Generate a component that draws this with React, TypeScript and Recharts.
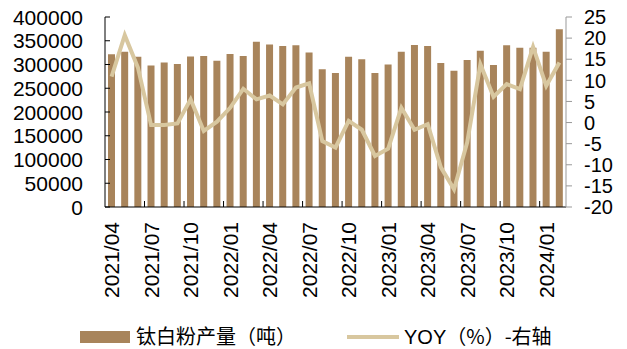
import React from 'react';
import { ComposedChart, Bar, Line, XAxis, YAxis } from 'recharts';

const months = [
  '2021/04', '2021/05', '2021/06', '2021/07', '2021/08', '2021/09', '2021/10', '2021/11', '2021/12',
  '2022/01', '2022/02', '2022/03', '2022/04', '2022/05', '2022/06', '2022/07', '2022/08', '2022/09',
  '2022/10', '2022/11', '2022/12', '2023/01', '2023/02', '2023/03', '2023/04', '2023/05', '2023/06',
  '2023/07', '2023/08', '2023/09', '2023/10', '2023/11', '2023/12', '2024/01', '2024/02',
];

// 钛白粉产量（吨）
const output = [
  321500, 327000, 316500, 298000, 304000, 301000, 317000, 318000, 308000,
  322000, 318000, 348000, 342000, 339000, 340500, 325500, 290000, 282000,
  316500, 311000, 282000, 300000, 327000, 341000, 339000, 303000, 287000,
  309500, 329000, 299000, 340500, 335500, 335500, 327000, 374000,
];

// YOY（%）
const yoy = [
  10.9, 20.7, 13.0, -0.6, -0.6, -0.2, 5.5, -2.0, 0.2,
  3.5, 8.0, 5.5, 6.4, 4.3, 8.3, 9.3, -4.4, -5.9,
  0.4, -1.7, -7.9, -6.2, 3.5, -1.7, -0.4, -10.6, -15.8,
  -4.7, 13.8, 6.1, 9.1, 7.9, 17.9, 8.7, 14.2,
];

const leftTicks = [0, 50000, 100000, 150000, 200000, 250000, 300000, 350000, 400000];
const rightTicks = [-20, -15, -10, -5, 0, 5, 10, 15, 20, 25];

const data = months.map((m, i) => ({ month: m, output: output[i], yoy: yoy[i] }));

const W = 627;
const H = 349;
const LEFT_W = 105;
const RIGHT_W = 61;
const TOP = 17;
const X_H = 142;
const band = (W - LEFT_W - RIGHT_W) / months.length;

const BAR_COLOR = '#A8845B';
const LINE_COLOR = '#D8C79F';
const LATIN = '"Liberation Sans", Arial, sans-serif';
const CJK = '"Noto Sans CJK SC", "Liberation Sans", sans-serif';

const LeftTick = (props: any) => {
  const { x, y, payload } = props;
  return (
    <g>
      <line x1={LEFT_W} x2={LEFT_W + 5} y1={y} y2={y} stroke="#000" strokeWidth={1} />
      <text x={x} y={y} dy="0.36em" textAnchor="end" fontSize={21} fill="#000">
        {payload.value}
      </text>
    </g>
  );
};

const RightTick = (props: any) => {
  const { x, y, payload } = props;
  return (
    <text x={x} y={y} dy="0.36em" textAnchor="start" fontSize={20} fill="#000">
      {payload.value}
    </text>
  );
};

const MonthTick = (props: any) => {
  const { x, y, payload, index } = props;
  const bx = x - band / 2;
  return (
    <g>
      {index > 0 && <line x1={bx} x2={bx} y1={y - 6} y2={y} stroke="#000" strokeWidth={1} />}
      <text
        transform={`translate(${x + 7.5},${y + 15}) rotate(-90)`}
        textAnchor="end"
        fontSize={21}
        fill="#000"
      >
        {payload.value}
      </text>
    </g>
  );
};

export default function App() {
  return (
    <div style={{ position: 'absolute', left: 0, top: 0, width: W, height: H, background: '#fff', fontFamily: LATIN }}>
      <ComposedChart
        width={W}
        height={H}
        data={data}
        margin={{ top: TOP, right: 0, bottom: 0, left: 0 }}
        barSize={7}
      >
        <XAxis
          dataKey="month"
          interval={2}
          height={X_H}
          tickLine={false}
          tickSize={0}
          tickMargin={0}
          axisLine={{ stroke: '#000' }}
          tick={<MonthTick />}
        />
        <YAxis
          yAxisId="left"
          orientation="left"
          width={LEFT_W}
          domain={[0, 400000]}
          ticks={leftTicks}
          interval={0}
          tickLine={false}
          tickSize={0}
          tickMargin={22}
          axisLine={{ stroke: '#000' }}
          tick={<LeftTick />}
        />
        <YAxis
          yAxisId="right"
          orientation="right"
          width={RIGHT_W}
          domain={[-20, 25]}
          ticks={rightTicks}
          interval={0}
          tickSize={6}
          tickMargin={12}
          tickLine={{ stroke: '#999' }}
          axisLine={{ stroke: '#999' }}
          tick={<RightTick />}
        />
        <Bar yAxisId="left" dataKey="output" fill={BAR_COLOR} isAnimationActive={false} />
        <Line
          yAxisId="right"
          type="linear"
          dataKey="yoy"
          stroke={LINE_COLOR}
          strokeWidth={4}
          dot={false}
          activeDot={false}
          isAnimationActive={false}
        />
      </ComposedChart>
      <div style={{ position: 'absolute', left: 80, top: 331, width: 50, height: 12, background: BAR_COLOR }} />
      <div style={{ position: 'absolute', left: 136, top: 323, fontFamily: CJK, fontSize: 20, lineHeight: '26px', color: '#000', whiteSpace: 'nowrap' }}>
        钛白粉产量（吨）
      </div>
      <div style={{ position: 'absolute', left: 347, top: 335, width: 52, height: 4, background: LINE_COLOR }} />
      <div style={{ position: 'absolute', left: 404, top: 323, fontSize: 20, lineHeight: '26px', color: '#000', whiteSpace: 'nowrap' }}>
        <span style={{ fontFamily: LATIN }}>YOY</span>
        <span style={{ fontFamily: CJK }}>（%）-右轴</span>
      </div>
    </div>
  );
}
